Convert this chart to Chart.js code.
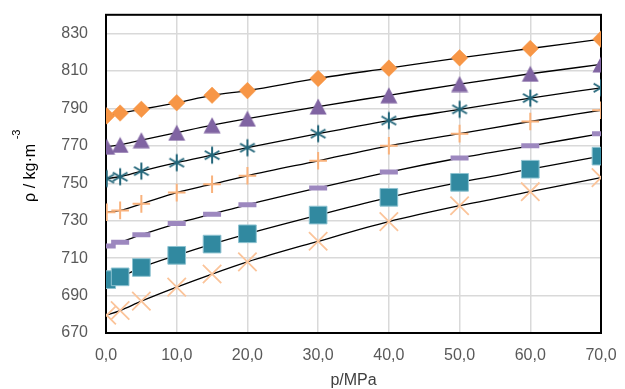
<!DOCTYPE html>
<html>
<head>
<meta charset="utf-8">
<script src="https://cdn.jsdelivr.net/npm/chart.js@4/dist/chart.umd.min.js"></script>
<style>
  html, body { margin: 0; padding: 0; background: #ffffff; }
  #wrap { width: 625px; height: 389px; }
</style>
</head>
<body>
<div id="wrap"><canvas id="c" width="625" height="389"></canvas></div>
<script>
// Pressure (MPa) of each measurement
const pressure = [0.1, 2, 5, 10, 15, 20, 30, 40, 50, 60, 70];

// Density (kg/m³) of each isotherm, highest to lowest
const rhoDiamond  = [786, 787.5, 789.5, 793, 797, 799.5, 806, 811.5, 817, 822, 827];
const rhoTriangle = [769.5, 770.5, 773, 777, 781, 784.5, 791, 797, 803, 808.5, 813.5];
const rhoStar     = [752.5, 753.5, 756.5, 761, 765, 769, 776.5, 783.5, 789.5, 795.5, 801];
const rhoPlus     = [734.5, 735.5, 739, 745, 749.5, 754, 762, 770, 776.5, 783, 789];
const rhoDash     = [716.5, 718.5, 722.5, 728.5, 733.5, 738.5, 747.5, 756, 763.5, 770, 776.5];
const rhoSquare   = [698.5, 700, 705, 711.5, 717.5, 723, 733, 742.5, 750.5, 757.5, 764.5];
const rhoCross    = [679.5, 682, 687, 694.5, 701.5, 708, 719, 729.5, 738, 745.5, 753];

// Axis ticks
const xTicks = [0, 10, 20, 30, 40, 50, 60, 70];
const yTicks = [670, 690, 710, 730, 750, 770, 790, 810, 830];

// Six-armed asterisk marker
function makeAsterisk(color) {
  const cv = document.createElement('canvas');
  cv.width = 20; cv.height = 20;
  const g = cv.getContext('2d');
  g.strokeStyle = color; g.lineWidth = 2;
  const r = 8.5;
  for (let k = 0; k < 3; k++) {
    const a = Math.PI / 2 + k * Math.PI / 3;
    g.beginPath();
    g.moveTo(10 + Math.cos(a) * r, 10 - Math.sin(a) * r);
    g.lineTo(10 - Math.cos(a) * r, 10 + Math.sin(a) * r);
    g.stroke();
  }
  return cv;
}

// Triangle marker centred on its bounding box
function makeTriangle(color) {
  const cv = document.createElement('canvas');
  cv.width = 18; cv.height = 17;
  const g = cv.getContext('2d');
  g.fillStyle = color;
  g.beginPath();
  g.moveTo(9, 0.5);
  g.lineTo(17.5, 16.5);
  g.lineTo(0.5, 16.5);
  g.closePath();
  g.fill();
  return cv;
}

const toPoints = (ys) => ys.map((y, i) => ({ x: pressure[i], y: y }));

function series(label, ys, point) {
  return Object.assign({
    label: label,
    data: toPoints(ys),
    showLine: true,
    borderColor: '#000000',
    borderWidth: 1.3,
    cubicInterpolationMode: 'monotone',
    fill: false
  }, point);
}

const datasets = [
  series('diamond', rhoDiamond, {
    pointStyle: 'rectRot', pointRadius: 8.3, pointBackgroundColor: '#F79646',
    pointBorderColor: '#F79646', pointBorderWidth: 0.5
  }),
  series('triangle', rhoTriangle, {
    pointStyle: makeTriangle('#8064A2'), pointRadius: 9
  }),
  series('asterisk', rhoStar, {
    pointStyle: makeAsterisk('#23667A'), pointRadius: 10
  }),
  series('plus', rhoPlus, {
    pointStyle: 'cross', pointRadius: 8.8, pointBorderColor: '#F9B27C',
    pointBorderWidth: 2
  }),
  series('dash', rhoDash, {
    pointStyle: 'line', pointRadius: 9, pointBorderColor: '#9D88BF',
    pointBorderWidth: 5
  }),
  series('square', rhoSquare, {
    pointStyle: 'rect', pointRadius: 12.5, pointBackgroundColor: '#3189A0',
    pointBorderColor: '#8EC3D1', pointBorderWidth: 1
  }),
  series('cross', rhoCross, {
    pointStyle: 'crossRot', pointRadius: 13, pointBorderColor: '#FBC49A',
    pointBorderWidth: 1.8
  })
];

// Black frame around the plotting area, under the markers
const frame = {
  id: 'frame',
  beforeDatasetsDraw(chart) {
    const { ctx, chartArea: a } = chart;
    ctx.save();
    ctx.strokeStyle = '#000000';
    ctx.lineWidth = 2;
    ctx.strokeRect(a.left, a.top, a.right - a.left, a.bottom - a.top);
    ctx.restore();
  }
};

// Rotated density axis title with a raised exponent
const densityTitle = {
  id: 'densityTitle',
  afterDraw(chart) {
    const { ctx, chartArea: a } = chart;
    const cy = (a.top + a.bottom) / 2 - 1;
    ctx.save();
    ctx.translate(31, cy);
    ctx.rotate(-Math.PI / 2);
    ctx.fillStyle = '#000000';
    ctx.textAlign = 'center';
    ctx.textBaseline = 'middle';
    ctx.font = '16px "Liberation Sans", Arial, sans-serif';
    ctx.fillText('ρ / kg·m', 0, 0);
    ctx.font = '11px "Liberation Sans", Arial, sans-serif';
    ctx.fillText('-3', 38.5, -14);
    ctx.restore();
  }
};

const noEdgePadding = (s) => {
  s.paddingTop = 0; s.paddingBottom = 0; s.paddingLeft = 0; s.paddingRight = 0;
};

const tickFont = { family: '"Liberation Sans", Arial, sans-serif', size: 16 };

new Chart(document.getElementById('c'), {
  type: 'scatter',
  data: { datasets: datasets },
  options: {
    responsive: false,
    animation: false,
    layout: { padding: { top: 8, right: 24, left: 0, bottom: 0 } },
    plugins: {
      legend: { display: false },
      tooltip: { enabled: false }
    },
    scales: {
      x: {
        type: 'linear',
        min: 0, max: 70,
        afterBuildTicks: (s) => { s.ticks = xTicks.map(v => ({ value: v })); },
        afterFit: (s) => { s.height = 56; noEdgePadding(s); },
        border: { display: false },
        grid: { color: '#D9D9D9', lineWidth: 1.5, drawTicks: false },
        ticks: {
          padding: 13,
          color: '#595959',
          font: tickFont,
          maxRotation: 0,
          callback: (v) => Number(v).toFixed(1).replace('.', ',')
        },
        title: {
          display: true,
          text: 'p/MPa',
          color: '#404040',
          font: { family: '"Liberation Sans", Arial, sans-serif', size: 16, lineHeight: 1 },
          padding: { top: 0, bottom: 0 }
        }
      },
      y: {
        type: 'linear',
        min: 670, max: 840,
        afterBuildTicks: (s) => { s.ticks = yTicks.map(v => ({ value: v })); },
        afterFit: (s) => { s.width = 106; noEdgePadding(s); },
        border: { display: false },
        grid: { color: '#D9D9D9', lineWidth: 1.5, drawTicks: false },
        ticks: {
          padding: 18,
          color: '#595959',
          font: tickFont
        }
      }
    }
  },
  plugins: [frame, densityTitle]
});
</script>
</body>
</html>
